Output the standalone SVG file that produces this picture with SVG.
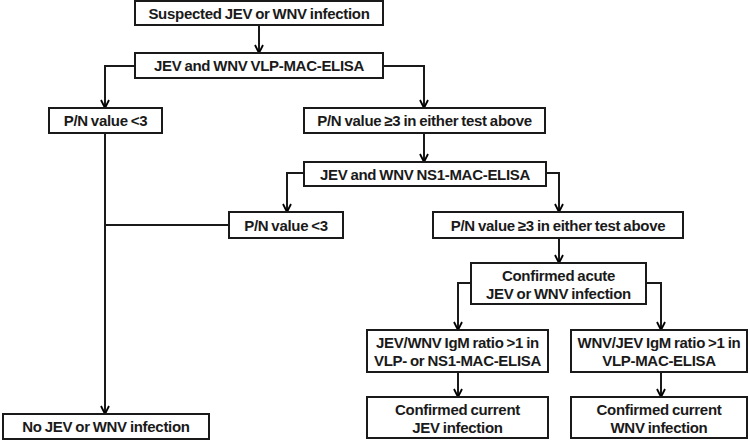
<svg xmlns="http://www.w3.org/2000/svg" width="750" height="440" viewBox="0 0 750 440">
<defs>
<marker id="ah" viewBox="0 0 10 10" refX="9" refY="5" markerWidth="10" markerHeight="10" markerUnits="userSpaceOnUse" orient="auto">
<path d="M1,1 L9,5 L1,9" fill="none" stroke="#000" stroke-width="1.8"/>
</marker>
<style>
rect{fill:#fff;stroke:#1a1a1a;stroke-width:2}
text{font-family:"Liberation Sans",Arial,sans-serif;font-weight:bold;font-size:15px;letter-spacing:-0.3px;word-spacing:-0.8px;fill:#1a1a1a;text-anchor:middle}
#connectors path{fill:none;stroke:#1a1a1a;stroke-width:2}
.a{marker-end:url(#ah)}
</style>
</defs>
<rect x="0" y="0" width="750" height="440" style="fill:#fff;stroke:none"/>
<g id="connectors">
<path class="a" d="M259,25 V53"/>
<path class="a" d="M135,66 H105 V108"/>
<path class="a" d="M383,66 H424 V108"/>
<path class="a" d="M105,133 V414"/>
<path d="M229,225 H105"/>
<path class="a" d="M424,133 V162"/>
<path class="a" d="M304,173 H287 V212"/>
<path class="a" d="M546,173 H559 V212"/>
<path class="a" d="M559,238 V263"/>
<path class="a" d="M471,283 H458 V330"/>
<path class="a" d="M646,283 H661 V330"/>
<path class="a" d="M458,372 V397"/>
<path class="a" d="M661,372 V397"/>
</g>
<g id="n1"><rect x="135" y="1" width="248" height="24"/><text x="259" y="18.5">Suspected JEV or WNV infection</text></g>
<g id="n2"><rect x="135" y="53" width="248" height="25"/><text x="259" y="71">JEV and WNV VLP-MAC-ELISA</text></g>
<g id="n3"><rect x="49" y="108" width="113" height="25"/><text x="105.5" y="126">P/N value &lt;3</text></g>
<g id="n4"><rect x="304" y="108" width="241" height="25"/><text x="424.5" y="126">P/N value ≥3 in either test above</text></g>
<g id="n5"><rect x="304" y="162" width="242" height="24"/><text x="425" y="179.5">JEV and WNV NS1-MAC-ELISA</text></g>
<g id="n6"><rect x="229" y="212" width="114" height="26"/><text x="286" y="230.5">P/N value &lt;3</text></g>
<g id="n7"><rect x="433" y="212" width="250" height="26"/><text x="558" y="230.5">P/N value ≥3 in either test above</text></g>
<g id="n8"><rect x="471" y="263" width="175" height="41"/><text x="558.5" y="281">Confirmed acute</text><text x="558.5" y="298.5">JEV or WNV infection</text></g>
<g id="n9"><rect x="367" y="330" width="181" height="42"/><text x="457.5" y="347.5">JEV/WNV IgM ratio &gt;1 in</text><text x="457.5" y="365.5">VLP- or NS1-MAC-ELISA</text></g>
<g id="n10"><rect x="571" y="330" width="176" height="42"/><text x="659" y="347.5">WNV/JEV IgM ratio &gt;1 in</text><text x="659" y="365.5">VLP-MAC-ELISA</text></g>
<g id="n11"><rect x="3" y="414" width="206" height="25"/><text x="106" y="432">No JEV or WNV infection</text></g>
<g id="n12"><rect x="367" y="397" width="181" height="41"/><text x="457.5" y="415">Confirmed current</text><text x="457.5" y="432.5">JEV infection</text></g>
<g id="n13"><rect x="571" y="397" width="176" height="41"/><text x="659" y="415">Confirmed current</text><text x="659" y="432.5">WNV infection</text></g>
</svg>
